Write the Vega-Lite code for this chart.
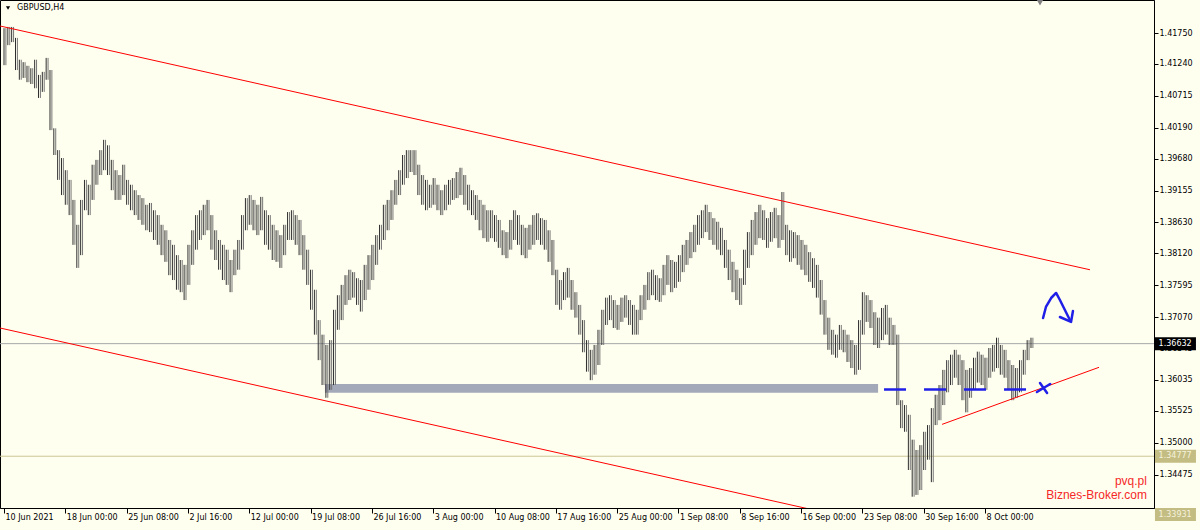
{
"$schema": "https://vega.github.io/schema/vega-lite/v6.json",
"width": 1154, "height": 508,
"autosize": "none",
"padding": {"left": 0, "top": 0, "right": 46, "bottom": 22},
"background": "#FFFFF0",
"config": {"view": {"stroke": "#000000", "strokeWidth": 1, "fill": "#FFFFF0"}, "font": "DejaVu Sans", "axis": {"labelOverlap": false}},
"datasets": {
"bars": [
{"i":0,"h":1.4183,"l":1.4122},{"i":2,"h":1.4185,"l":1.4155},{"i":4,"h":1.4185,"l":1.4160},{"i":6,"h":1.4167,"l":1.4114},{"i":8,"h":1.4131,"l":1.4098},{"i":10,"h":1.4127,"l":1.4101},{"i":12,"h":1.4121,"l":1.4094},{"i":14,"h":1.4117,"l":1.4091},{"i":16,"h":1.4131,"l":1.4084},{"i":18,"h":1.4106,"l":1.4068},
{"i":20,"h":1.4111,"l":1.4078},{"i":22,"h":1.4134,"l":1.4098},{"i":24,"h":1.4114,"l":1.4015},{"i":26,"h":1.4018,"l":1.3974},{"i":28,"h":1.3982,"l":1.3933},{"i":30,"h":1.3969,"l":1.3908},{"i":32,"h":1.3949,"l":1.3892},{"i":34,"h":1.3933,"l":1.3875},{"i":36,"h":1.3900,"l":1.3826},{"i":38,"h":1.3859,"l":1.3788},
{"i":40,"h":1.3900,"l":1.3809},{"i":42,"h":1.3933,"l":1.3883},{"i":44,"h":1.3925,"l":1.3875},{"i":46,"h":1.3958,"l":1.3900},{"i":48,"h":1.3966,"l":1.3925},{"i":50,"h":1.3982,"l":1.3941},{"i":52,"h":1.3999,"l":1.3949},{"i":54,"h":1.3990,"l":1.3941},{"i":56,"h":1.3966,"l":1.3916},{"i":58,"h":1.3949,"l":1.3900},
{"i":60,"h":1.3941,"l":1.3900},{"i":62,"h":1.3958,"l":1.3908},{"i":64,"h":1.3933,"l":1.3892},{"i":66,"h":1.3925,"l":1.3883},{"i":68,"h":1.3916,"l":1.3875},{"i":70,"h":1.3908,"l":1.3867},{"i":72,"h":1.3903,"l":1.3859},{"i":74,"h":1.3892,"l":1.3850},{"i":76,"h":1.3895,"l":1.3847},{"i":78,"h":1.3883,"l":1.3834},
{"i":80,"h":1.3875,"l":1.3826},{"i":82,"h":1.3859,"l":1.3809},{"i":84,"h":1.3850,"l":1.3798},{"i":86,"h":1.3834,"l":1.3776},{"i":88,"h":1.3826,"l":1.3768},{"i":90,"h":1.3809,"l":1.3752},{"i":92,"h":1.3801,"l":1.3748},{"i":94,"h":1.3793,"l":1.3735},{"i":96,"h":1.3826,"l":1.3760},{"i":98,"h":1.3850,"l":1.3793},
{"i":100,"h":1.3875,"l":1.3818},{"i":102,"h":1.3883,"l":1.3834},{"i":104,"h":1.3892,"l":1.3842},{"i":106,"h":1.3900,"l":1.3850},{"i":108,"h":1.3875,"l":1.3818},{"i":110,"h":1.3850,"l":1.3801},{"i":112,"h":1.3834,"l":1.3785},{"i":114,"h":1.3826,"l":1.3768},{"i":116,"h":1.3818,"l":1.3760},{"i":118,"h":1.3801,"l":1.3748},
{"i":120,"h":1.3818,"l":1.3776},{"i":122,"h":1.3834,"l":1.3785},{"i":124,"h":1.3875,"l":1.3818},{"i":126,"h":1.3903,"l":1.3850},{"i":128,"h":1.3908,"l":1.3859},{"i":130,"h":1.3900,"l":1.3850},{"i":132,"h":1.3892,"l":1.3842},{"i":134,"h":1.3905,"l":1.3850},{"i":136,"h":1.3883,"l":1.3826},{"i":138,"h":1.3875,"l":1.3818},
{"i":140,"h":1.3859,"l":1.3801},{"i":142,"h":1.3850,"l":1.3798},{"i":144,"h":1.3842,"l":1.3788},{"i":146,"h":1.3859,"l":1.3809},{"i":148,"h":1.3880,"l":1.3834},{"i":150,"h":1.3883,"l":1.3834},{"i":152,"h":1.3875,"l":1.3826},{"i":154,"h":1.3867,"l":1.3809},{"i":156,"h":1.3842,"l":1.3785},{"i":158,"h":1.3818,"l":1.3760},
{"i":160,"h":1.3785,"l":1.3719},{"i":162,"h":1.3752,"l":1.3678},{"i":164,"h":1.3702,"l":1.3636},{"i":166,"h":1.3678,"l":1.3595},{"i":168,"h":1.3661,"l":1.3574},{"i":170,"h":1.3669,"l":1.3587},{"i":172,"h":1.3719,"l":1.3595},{"i":174,"h":1.3743,"l":1.3686},{"i":176,"h":1.3760,"l":1.3702},{"i":178,"h":1.3776,"l":1.3727},
{"i":180,"h":1.3785,"l":1.3735},{"i":182,"h":1.3781,"l":1.3739},{"i":184,"h":1.3771,"l":1.3727},{"i":186,"h":1.3768,"l":1.3716},{"i":188,"h":1.3793,"l":1.3735},{"i":190,"h":1.3809,"l":1.3752},{"i":192,"h":1.3826,"l":1.3768},{"i":194,"h":1.3842,"l":1.3793},{"i":196,"h":1.3859,"l":1.3818},{"i":198,"h":1.3892,"l":1.3834},
{"i":200,"h":1.3900,"l":1.3850},{"i":202,"h":1.3916,"l":1.3867},{"i":204,"h":1.3933,"l":1.3892},{"i":206,"h":1.3949,"l":1.3908},{"i":208,"h":1.3974,"l":1.3925},{"i":210,"h":1.3982,"l":1.3936},{"i":212,"h":1.3982,"l":1.3946},{"i":214,"h":1.3982,"l":1.3941},{"i":216,"h":1.3958,"l":1.3908},{"i":218,"h":1.3941,"l":1.3892},
{"i":220,"h":1.3933,"l":1.3883},{"i":222,"h":1.3925,"l":1.3887},{"i":224,"h":1.3936,"l":1.3892},{"i":226,"h":1.3925,"l":1.3883},{"i":228,"h":1.3916,"l":1.3875},{"i":230,"h":1.3925,"l":1.3883},{"i":232,"h":1.3933,"l":1.3892},{"i":234,"h":1.3936,"l":1.3900},{"i":236,"h":1.3946,"l":1.3903},{"i":238,"h":1.3953,"l":1.3908},
{"i":240,"h":1.3941,"l":1.3892},{"i":242,"h":1.3925,"l":1.3883},{"i":244,"h":1.3916,"l":1.3875},{"i":246,"h":1.3908,"l":1.3867},{"i":248,"h":1.3900,"l":1.3850},{"i":250,"h":1.3892,"l":1.3837},{"i":252,"h":1.3883,"l":1.3831},{"i":254,"h":1.3883,"l":1.3837},{"i":256,"h":1.3875,"l":1.3831},{"i":258,"h":1.3867,"l":1.3821},
{"i":260,"h":1.3850,"l":1.3809},{"i":262,"h":1.3847,"l":1.3804},{"i":264,"h":1.3867,"l":1.3818},{"i":266,"h":1.3883,"l":1.3834},{"i":268,"h":1.3875,"l":1.3826},{"i":270,"h":1.3859,"l":1.3809},{"i":272,"h":1.3854,"l":1.3804},{"i":274,"h":1.3859,"l":1.3818},{"i":276,"h":1.3875,"l":1.3826},{"i":278,"h":1.3878,"l":1.3834},
{"i":280,"h":1.3870,"l":1.3826},{"i":282,"h":1.3867,"l":1.3818},{"i":284,"h":1.3850,"l":1.3798},{"i":286,"h":1.3834,"l":1.3776},{"i":288,"h":1.3785,"l":1.3727},{"i":290,"h":1.3768,"l":1.3719},{"i":292,"h":1.3781,"l":1.3735},{"i":294,"h":1.3788,"l":1.3739},{"i":296,"h":1.3768,"l":1.3719},{"i":298,"h":1.3748,"l":1.3706},
{"i":300,"h":1.3727,"l":1.3678},{"i":302,"h":1.3702,"l":1.3649},{"i":304,"h":1.3669,"l":1.3617},{"i":306,"h":1.3653,"l":1.3603},{"i":308,"h":1.3661,"l":1.3612},{"i":310,"h":1.3686,"l":1.3628},{"i":312,"h":1.3719,"l":1.3661},{"i":314,"h":1.3739,"l":1.3694},{"i":316,"h":1.3743,"l":1.3702},{"i":318,"h":1.3735,"l":1.3689},
{"i":320,"h":1.3727,"l":1.3686},{"i":322,"h":1.3739,"l":1.3699},{"i":324,"h":1.3743,"l":1.3706},{"i":326,"h":1.3735,"l":1.3694},{"i":328,"h":1.3727,"l":1.3678},{"i":330,"h":1.3719,"l":1.3678},{"i":332,"h":1.3743,"l":1.3702},{"i":334,"h":1.3760,"l":1.3719},{"i":336,"h":1.3781,"l":1.3735},{"i":338,"h":1.3785,"l":1.3743},
{"i":340,"h":1.3776,"l":1.3735},{"i":342,"h":1.3771,"l":1.3732},{"i":344,"h":1.3793,"l":1.3743},{"i":346,"h":1.3809,"l":1.3760},{"i":348,"h":1.3801,"l":1.3748},{"i":350,"h":1.3798,"l":1.3755},{"i":352,"h":1.3809,"l":1.3765},{"i":354,"h":1.3826,"l":1.3781},{"i":356,"h":1.3834,"l":1.3793},{"i":358,"h":1.3847,"l":1.3804},
{"i":360,"h":1.3859,"l":1.3814},{"i":362,"h":1.3875,"l":1.3826},{"i":364,"h":1.3883,"l":1.3837},{"i":366,"h":1.3892,"l":1.3847},{"i":368,"h":1.3880,"l":1.3834},{"i":370,"h":1.3870,"l":1.3826},{"i":372,"h":1.3864,"l":1.3818},{"i":374,"h":1.3854,"l":1.3809},{"i":376,"h":1.3834,"l":1.3788},{"i":378,"h":1.3818,"l":1.3768},
{"i":380,"h":1.3798,"l":1.3748},{"i":382,"h":1.3785,"l":1.3735},{"i":384,"h":1.3771,"l":1.3727},{"i":386,"h":1.3818,"l":1.3760},{"i":388,"h":1.3847,"l":1.3788},{"i":390,"h":1.3867,"l":1.3809},{"i":392,"h":1.3880,"l":1.3826},{"i":394,"h":1.3892,"l":1.3837},{"i":396,"h":1.3883,"l":1.3834},{"i":398,"h":1.3870,"l":1.3821},
{"i":400,"h":1.3880,"l":1.3831},{"i":402,"h":1.3887,"l":1.3837},{"i":404,"h":1.3875,"l":1.3821},{"i":406,"h":1.3913,"l":1.3834},{"i":408,"h":1.3859,"l":1.3809},{"i":410,"h":1.3850,"l":1.3798},{"i":412,"h":1.3847,"l":1.3804},{"i":414,"h":1.3842,"l":1.3793},{"i":416,"h":1.3834,"l":1.3785},{"i":418,"h":1.3826,"l":1.3776},
{"i":420,"h":1.3814,"l":1.3765},{"i":422,"h":1.3804,"l":1.3755},{"i":424,"h":1.3793,"l":1.3739},{"i":426,"h":1.3768,"l":1.3711},{"i":428,"h":1.3735,"l":1.3678},{"i":430,"h":1.3706,"l":1.3653},{"i":432,"h":1.3686,"l":1.3645},{"i":434,"h":1.3678,"l":1.3640},{"i":436,"h":1.3694,"l":1.3653},{"i":438,"h":1.3686,"l":1.3649},
{"i":440,"h":1.3678,"l":1.3633},{"i":442,"h":1.3669,"l":1.3623},{"i":444,"h":1.3661,"l":1.3612},{"i":446,"h":1.3702,"l":1.3620},{"i":448,"h":1.3748,"l":1.3678},{"i":450,"h":1.3743,"l":1.3699},{"i":452,"h":1.3735,"l":1.3689},{"i":454,"h":1.3715,"l":1.3661},{"i":456,"h":1.3706,"l":1.3656},{"i":458,"h":1.3722,"l":1.3669},
{"i":460,"h":1.3727,"l":1.3678},{"i":462,"h":1.3706,"l":1.3661},{"i":464,"h":1.3694,"l":1.3661},{"i":466,"h":1.3678,"l":1.3562},{"i":468,"h":1.3570,"l":1.3524},{"i":470,"h":1.3562,"l":1.3518},{"i":472,"h":1.3546,"l":1.3455},{"i":474,"h":1.3505,"l":1.3411},{"i":476,"h":1.3488,"l":1.3414},{"i":478,"h":1.3496,"l":1.3422},
{"i":480,"h":1.3518,"l":1.3455},{"i":482,"h":1.3529,"l":1.3472},{"i":484,"h":1.3557,"l":1.3435},{"i":486,"h":1.3579,"l":1.3529},{"i":488,"h":1.3595,"l":1.3537},{"i":490,"h":1.3620,"l":1.3562},{"i":492,"h":1.3636,"l":1.3583},{"i":494,"h":1.3645,"l":1.3595},{"i":496,"h":1.3653,"l":1.3607},{"i":498,"h":1.3645,"l":1.3595},
{"i":500,"h":1.3636,"l":1.3570},{"i":502,"h":1.3620,"l":1.3550},{"i":504,"h":1.3623,"l":1.3574},{"i":506,"h":1.3640,"l":1.3587},{"i":508,"h":1.3650,"l":1.3599},{"i":510,"h":1.3645,"l":1.3595},{"i":512,"h":1.3640,"l":1.3587},{"i":514,"h":1.3656,"l":1.3607},{"i":516,"h":1.3661,"l":1.3617},{"i":518,"h":1.3673,"l":1.3623},
{"i":520,"h":1.3661,"l":1.3612},{"i":522,"h":1.3653,"l":1.3607},{"i":524,"h":1.3636,"l":1.3587},{"i":526,"h":1.3628,"l":1.3570},{"i":528,"h":1.3623,"l":1.3574},{"i":530,"h":1.3636,"l":1.3583},{"i":532,"h":1.3653,"l":1.3612},{"i":534,"h":1.3669,"l":1.3636},{"i":536,"h":1.3673,"l":1.3656}
],
"lines": [
{"g":"up","o":0,"i":-2.1,"v":1.41866},{"g":"up","o":1,"i":566.8,"v":1.37849},
{"g":"low","o":0,"i":-2.1,"v":1.3689},{"g":"low","o":1,"i":467.6,"v":1.33573},
{"g":"sup","o":0,"i":489.6,"v":1.35302},{"g":"sup","o":1,"i":571.5,"v":1.36242},
{"g":"arrow","o":0,"i":542.3,"v":1.37055},{"g":"arrow","o":1,"i":543.8,"v":1.37236},{"g":"arrow","o":2,"i":546.5,"v":1.37384},{"g":"arrow","o":3,"i":549.1,"v":1.37467},{"g":"arrow","o":4,"i":551.1,"v":1.37351},{"g":"arrow","o":5,"i":553.7,"v":1.37186},{"g":"arrow","o":6,"i":556.3,"v":1.37022},
{"g":"head","o":0,"i":551.1,"v":1.37071},{"g":"head","o":1,"i":556.9,"v":1.36989},{"g":"head","o":2,"i":557.9,"v":1.37170},
{"g":"xa","o":0,"i":539.1,"v":1.35835},{"g":"xa","o":1,"i":546.0,"v":1.35967},
{"g":"xb","o":0,"i":540.7,"v":1.35984},{"g":"xb","o":1,"i":544.4,"v":1.35819},
{"g":"dash","o":0,"i":459.3,"v":1.35877},{"g":"dash","o":1,"i":538.1,"v":1.35877}
]
},
"layer": [
{
"data": {"values": [{"x1": 167.5, "x2": 456.2, "y1": 1.35824, "y2": 1.35967}]},
"mark": {"type": "rect", "color": "#A3A9B9"},
"encoding": {
"x": {"field": "x1", "type": "quantitative", "scale": {"type": "linear", "domain": [-2.09, 600.2], "nice": false, "zero": false},
"axis": {"orient": "bottom", "values": [0,32,64,96,128,160,192,224,256,288,320,352,384,416,448,480,512], "tickCount": 40,
"labelExpr": "['10 Jun 2021','18 Jun 00:00','25 Jun 08:00','2 Jul 16:00','12 Jul 00:00','19 Jul 08:00','26 Jul 16:00','3 Aug 00:00','10 Aug 08:00','17 Aug 16:00','25 Aug 00:00','1 Sep 08:00','8 Sep 16:00','16 Sep 00:00','23 Sep 08:00','30 Sep 16:00','8 Oct 00:00'][round(datum.value/32)]",
"labelAlign": "left", "labelBaseline": "top", "labelPadding": 0, "labelOffset": 1, "tickSize": 5, "tickColor": "#000000", "domainColor": "#000000",
"labelFont": "DejaVu Sans", "labelFontSize": 8, "labelColor": "#000000", "labelFlush": false, "labelOverlap": false, "labelBound": false, "grid": false, "title": null}},
"x2": {"field": "x2"},
"y": {"field": "y1", "type": "quantitative", "scale": {"type": "linear", "domain": [1.33924, 1.42294], "nice": false, "zero": false},
"axis": {"orient": "right", "values": [1.4175,1.4124,1.40715,1.4019,1.3968,1.39155,1.3863,1.3812,1.37595,1.3707,1.36545,1.36035,1.35525,1.35,1.34475], "tickCount": 40,
"format": ".5f", "labelFont": "DejaVu Sans", "labelFontSize": 8, "labelColor": "#000000", "tickSize": 4, "tickColor": "#000000", "domainColor": "#000000",
"labelPadding": 1, "labelOverlap": false, "labelBound": false, "labelFlush": false, "grid": false, "title": null}},
"y2": {"field": "y2"}
}
},
{
"data": {"values": [{"v": 1.36632}]},
"mark": {"type": "rule", "color": "#A6A8AA", "strokeWidth": 1},
"encoding": {"y": {"field": "v", "type": "quantitative", "scale": {"type": "linear", "domain": [1.33924, 1.42294], "nice": false, "zero": false}}}
},
{
"data": {"values": [{"v": 1.34777}]},
"mark": {"type": "rule", "color": "#CBC592", "strokeWidth": 1},
"encoding": {"y": {"field": "v", "type": "quantitative", "scale": {"type": "linear", "domain": [1.33924, 1.42294], "nice": false, "zero": false}}}
},
{
"data": {"name": "bars"},
"mark": {"type": "rule", "color": "#2e2e2e", "strokeWidth": 1},
"encoding": {
"x": {"field": "i", "type": "quantitative", "scale": {"type": "linear", "domain": [-2.09, 600.2], "nice": false, "zero": false}},
"y": {"field": "l", "type": "quantitative", "scale": {"type": "linear", "domain": [1.33924, 1.42294], "nice": false, "zero": false}},
"y2": {"field": "h"}
}
},
{
"data": {"name": "bars"},
"mark": {"type": "rule", "color": "#767676", "strokeWidth": 1, "xOffset": 1.9},
"encoding": {
"x": {"field": "i", "type": "quantitative", "scale": {"type": "linear", "domain": [-2.09, 600.2], "nice": false, "zero": false}},
"y": {"field": "l", "type": "quantitative", "scale": {"type": "linear", "domain": [1.33924, 1.42294], "nice": false, "zero": false}},
"y2": {"field": "h"}
}
},
{
"data": {"name": "lines"},
"transform": [{"filter": "indexof(['up','low','sup'], datum.g) >= 0"}],
"mark": {"type": "line", "color": "#FF0000", "strokeWidth": 1, "clip": true},
"encoding": {
"x": {"field": "i", "type": "quantitative", "scale": {"type": "linear", "domain": [-2.09, 600.2], "nice": false, "zero": false}},
"y": {"field": "v", "type": "quantitative", "scale": {"type": "linear", "domain": [1.33924, 1.42294], "nice": false, "zero": false}},
"detail": {"field": "g"},
"order": {"field": "o"}
}
},
{
"data": {"name": "lines"},
"transform": [{"filter": "indexof(['arrow','head','xa','xb'], datum.g) >= 0"}],
"mark": {"type": "line", "color": "#1F1FE8", "strokeWidth": 2.5, "strokeCap": "round", "strokeJoin": "round"},
"encoding": {
"x": {"field": "i", "type": "quantitative", "scale": {"type": "linear", "domain": [-2.09, 600.2], "nice": false, "zero": false}},
"y": {"field": "v", "type": "quantitative", "scale": {"type": "linear", "domain": [1.33924, 1.42294], "nice": false, "zero": false}},
"detail": {"field": "g"},
"order": {"field": "o"}
}
},
{
"data": {"name": "lines"},
"transform": [{"filter": "datum.g == 'dash'"}],
"mark": {"type": "line", "color": "#1F1FE8", "strokeWidth": 2.5, "strokeDash": [22, 18]},
"encoding": {
"x": {"field": "i", "type": "quantitative", "scale": {"type": "linear", "domain": [-2.09, 600.2], "nice": false, "zero": false}},
"y": {"field": "v", "type": "quantitative", "scale": {"type": "linear", "domain": [1.33924, 1.42294], "nice": false, "zero": false}},
"order": {"field": "o"}
}
},
{
"data": {"values": [{"t": "GBPUSD,H4"}]},
"mark": {"type": "text", "align": "left", "baseline": "middle", "font": "DejaVu Sans", "fontSize": 8, "color": "#000000"},
"encoding": {"x": {"datum": 6.8}, "y": {"datum": 1.42162}, "text": {"field": "t"}}
},
{
"data": {"values": [{"t": "x"}]},
"mark": {"type": "point", "shape": "triangle-down", "size": 18, "filled": true, "color": "#000000", "opacity": 1},
"encoding": {"x": {"datum": 2.1}, "y": {"datum": 1.42162}}
},
{
"data": {"values": [{"t": "x"}]},
"mark": {"type": "point", "shape": "triangle-down", "size": 40, "filled": true, "color": "#808080", "opacity": 1},
"encoding": {"x": {"datum": 540.7}, "y": {"datum": 1.42250}}
},
{
"data": {"values": [{"t": "pvq.pl", "v": 1.34369}, {"t": "Biznes-Broker.com", "v": 1.34139}]},
"mark": {"type": "text", "align": "right", "baseline": "middle", "font": "Liberation Sans", "fontSize": 12, "color": "#F52828"},
"encoding": {"x": {"datum": 596.5}, "y": {"field": "v", "type": "quantitative"}, "text": {"field": "t"}}
},
{
"data": {"values": [{"v": 1.36632}]},
"mark": {"type": "rule", "color": "#000000", "strokeWidth": 13, "strokeCap": "butt", "clip": false},
"encoding": {"x": {"datum": 600.7}, "x2": {"datum": 622.1}, "y": {"field": "v", "type": "quantitative"}}
},
{
"data": {"values": [{"v": 1.34777}]},
"mark": {"type": "rule", "color": "#C4BD83", "strokeWidth": 13, "strokeCap": "butt", "clip": false},
"encoding": {"x": {"datum": 600.7}, "x2": {"datum": 622.1}, "y": {"field": "v", "type": "quantitative"}}
},
{
"data": {"values": [{"v": 1.33931}]},
"mark": {"type": "rule", "color": "#C4BD83", "strokeWidth": 13, "strokeCap": "butt", "clip": false, "yOffset": 7},
"encoding": {"x": {"datum": 600.7}, "x2": {"datum": 622.1}, "y": {"field": "v", "type": "quantitative"}}
},
{
"data": {"values": [{"v": 1.36632}]},
"mark": {"type": "text", "align": "left", "baseline": "middle", "font": "DejaVu Sans", "fontSize": 8, "color": "#FFFFFF", "clip": false},
"encoding": {"x": {"datum": 602.6}, "y": {"field": "v", "type": "quantitative"}, "text": {"field": "v", "type": "quantitative", "format": ".5f"}}
},
{
"data": {"values": [{"v": 1.34777}]},
"mark": {"type": "text", "align": "left", "baseline": "middle", "font": "DejaVu Sans", "fontSize": 8, "color": "#F4F2DC", "clip": false},
"encoding": {"x": {"datum": 602.6}, "y": {"field": "v", "type": "quantitative"}, "text": {"field": "v", "type": "quantitative", "format": ".5f"}}
},
{
"data": {"values": [{"v": 1.33931}]},
"mark": {"type": "text", "align": "left", "baseline": "middle", "font": "DejaVu Sans", "fontSize": 8, "color": "#F4F2DC", "clip": false, "yOffset": 7},
"encoding": {"x": {"datum": 602.6}, "y": {"field": "v", "type": "quantitative"}, "text": {"field": "v", "type": "quantitative", "format": ".5f"}}
}
]
}
